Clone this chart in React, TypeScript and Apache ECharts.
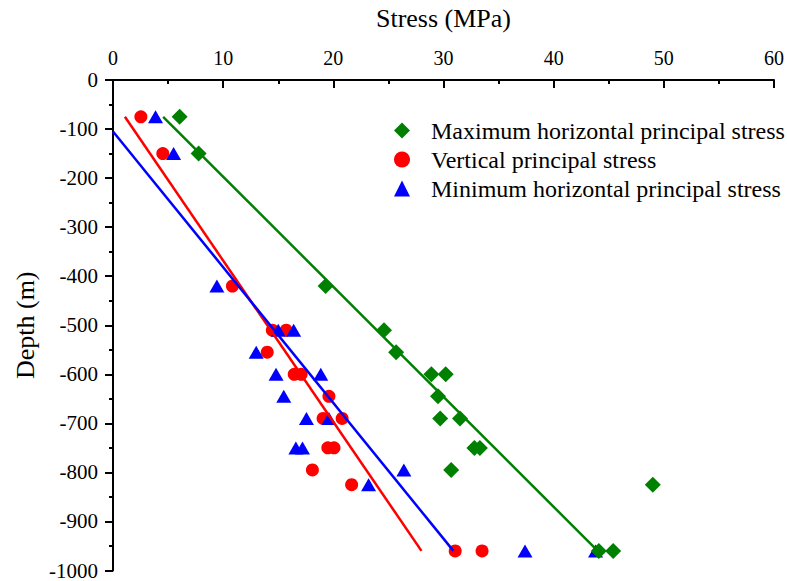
import React, { useEffect, useRef } from "react";
import * as echarts from "echarts";

const FONT = "'Liberation Serif', 'Times New Roman', serif";

const xTicks = [0, 10, 20, 30, 40, 50, 60];
const yRange = [-1000, 0];

const maxHorizontal: [number, number][] = [
  [6.05, -75], [7.77, -150], [19.3, -420], [24.6, -510], [25.7, -555],
  [28.9, -600], [30.2, -600], [29.5, -645], [29.7, -690], [31.5, -690],
  [32.8, -750], [33.3, -750], [30.7, -795], [49.0, -825], [44.1, -960], [45.4, -960],
];
const vertical: [number, number][] = [
  [2.53, -75], [4.52, -150], [10.84, -420], [14.46, -510], [15.72, -510],
  [14.0, -555], [16.45, -600], [17.08, -600], [19.6, -645], [19.07, -690],
  [20.8, -690], [19.5, -750], [20.06, -750], [18.1, -795], [21.66, -825],
  [31.06, -960], [33.5, -960],
];
const minHorizontal: [number, number][] = [
  [3.86, -75], [5.5, -150], [9.43, -420], [15.0, -510], [16.4, -510],
  [13.0, -555], [14.8, -600], [18.86, -600], [15.5, -645], [17.56, -690],
  [19.6, -690], [16.6, -750], [17.2, -750], [26.4, -795], [23.2, -825],
  [37.4, -960], [43.8, -960],
];

const fitMax: [number, number][] = [[4.55, -75], [44.0, -960]];
const fitVertical: [number, number][] = [[1.08, -75], [28.0, -960]];
const fitMin: [number, number][] = [[0, -105], [30.9, -960]];

const names = [
  "Maximum horizontal principal stress",
  "Vertical principal stress",
  "Minimum horizontal principal stress",
];
const colors = ["#008000", "#ff0000", "#0000ff"];

export default function App() {
  const ref = useRef<HTMLDivElement>(null);
  useEffect(() => {
    document.body.style.margin = "0";
    const chart = echarts.init(ref.current!, null, { renderer: "svg" });
    const lineSeries = (data: [number, number][], color: string, z: number) => ({
      type: "line",
      data,
      showSymbol: false,
      silent: true,
      lineStyle: { color, width: 2.5 },
      z,
    });
    chart.setOption({
      animation: false,
      backgroundColor: "#fff",
      grid: { left: 113, top: 80, right: 10, bottom: 10, containLabel: false },
      legend: {
        orient: "vertical",
        left: 389,
        top: 113.5,
        itemWidth: 16,
        itemHeight: 16,
        itemGap: 5,
        data: names,
        textStyle: { fontFamily: FONT, fontSize: 24, color: "#000", padding: [0, 0, 0, 16] },
      },
      xAxis: {
        type: "value",
        position: "top",
        min: xTicks[0],
        max: xTicks[xTicks.length - 1],
        interval: 10,
        name: "Stress (MPa)",
        nameLocation: "middle",
        nameGap: 49,
        nameTextStyle: { fontFamily: FONT, fontSize: 26, color: "#000" },
        axisLine: { lineStyle: { color: "#000", width: 2 } },
        axisTick: { inside: true, length: 8, lineStyle: { color: "#000", width: 2 } },
        minorTick: { show: true, splitNumber: 2, length: 4, lineStyle: { color: "#000", width: 2 } },
        axisLabel: { fontFamily: FONT, fontSize: 20, color: "#000", margin: 12 },
        splitLine: { show: false },
      },
      yAxis: {
        type: "value",
        min: yRange[0],
        max: yRange[1],
        interval: 100,
        name: "Depth (m)",
        nameLocation: "middle",
        nameGap: 72,
        nameTextStyle: { fontFamily: FONT, fontSize: 26, color: "#000" },
        axisLine: { lineStyle: { color: "#000", width: 2 } },
        axisTick: { inside: false, length: 8, lineStyle: { color: "#000", width: 2 } },
        minorTick: { show: true, splitNumber: 2, length: 4, lineStyle: { color: "#000", width: 2 } },
        axisLabel: {
          fontFamily: FONT,
          fontSize: 21,
          color: "#000",
          margin: 15,
          formatter: (v: number) => String(v),
        },
        splitLine: { show: false },
      },
      series: [
        {
          name: names[1],
          type: "scatter",
          data: vertical,
          symbol: "circle",
          symbolSize: 13,
          itemStyle: { color: colors[1], opacity: 1 },
          z: 2,
        },
        {
          name: names[2],
          type: "scatter",
          data: minHorizontal,
          symbol: "triangle",
          symbolSize: [15, 13],
          itemStyle: { color: colors[2], opacity: 1 },
          z: 3,
        },
        lineSeries(fitVertical, colors[1], 4),
        lineSeries(fitMin, colors[2], 4),
        lineSeries(fitMax, colors[0], 4),
        {
          name: names[0],
          type: "scatter",
          data: maxHorizontal,
          symbol: "diamond",
          symbolSize: 16,
          itemStyle: { color: colors[0], opacity: 1 },
          z: 5,
        },
      ],
    });
    return () => chart.dispose();
  }, []);
  return <div ref={ref} style={{ width: 787, height: 581 }} />;
}
